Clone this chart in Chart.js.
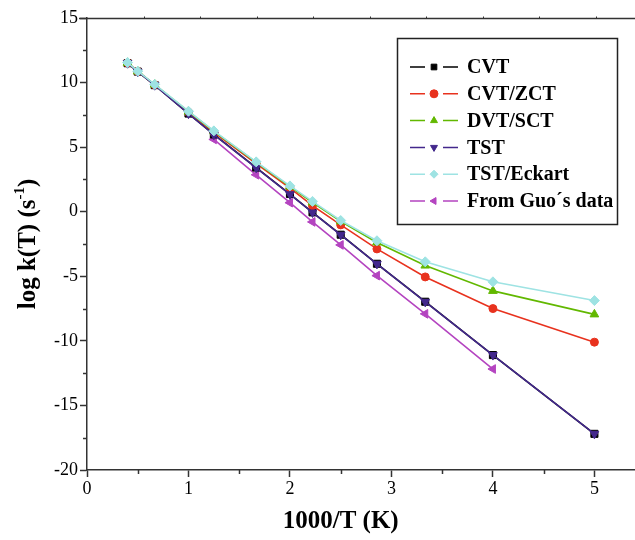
<!DOCTYPE html>
<html>
<head>
<meta charset="utf-8">
<script src="https://cdn.jsdelivr.net/npm/chart.js@4.4.1/dist/chart.umd.min.js"></script>
<style>
html,body{margin:0;padding:0;background:#fff;}
#wrap{width:635px;height:540px;}
</style>
</head>
<body>
<div id="wrap"><canvas id="c" width="635" height="540"></canvas></div>
<script>
// 1000/T values (K^-1 x 1000)
const xValues = [0.4, 0.5, 0.667, 1.0, 1.25, 1.667, 2.0, 2.222, 2.5, 2.857, 3.333, 4.0, 5.0];
const cvt       = [11.50, 10.85, 9.80, 7.60, 5.98, 3.42, 1.37, -0.05, -1.78, -4.03, -6.97, -11.10, -17.20];
const cvtZct    = [11.52, 10.86, 9.83, 7.70, 6.15, 3.72, 1.83,  0.47, -1.02, -2.88, -5.05,  -7.50, -10.10];
const dvtSct    = [11.53, 10.87, 9.85, 7.75, 6.22, 3.82, 1.95,  0.72, -0.75, -2.38, -4.17,  -6.13,  -7.95];
const tst       = [11.50, 10.84, 9.80, 7.59, 5.96, 3.40, 1.35, -0.06, -1.79, -4.04, -6.98, -11.10, -17.20];
const tstEckart = [11.55, 10.88, 9.86, 7.78, 6.26, 3.86, 2.00,  0.80, -0.68, -2.25, -3.88,  -5.43,  -6.88];
const guoX      = [1.25, 1.667, 2.0, 2.222, 2.5, 2.857, 3.333, 4.0];
const guo       = [5.60, 2.86, 0.70, -0.79, -2.57, -4.95, -7.91, -12.18];

const seriesNames = ['CVT', 'CVT/ZCT', 'DVT/SCT', 'TST', 'TST/Eckart', 'From Guo\u00b4s data'];
const yTicks = [-20, -15, -10, -5, 0, 5, 10, 15];
const xTicks = [0, 1, 2, 3, 4, 5];

const SERIF = "'Liberation Serif', 'Times New Roman', serif";
const AXIS = '#333333';

function pts(xs, ys){ return xs.map((x,i)=>({x:x, y:ys[i]})); }

const styles = [
  {color:'#000000', pointStyle:'rect', rotation:0, radius:5, order:5},
  {color:'#e8321e', pointStyle:'circle', rotation:0, radius:4, order:4},
  {color:'#62b800', pointStyle:'triangle', rotation:0, radius:5, order:3},
  {color:'#43288c', pointStyle:'triangle', rotation:180, radius:5, order:2},
  {color:'#9ee3e3', pointStyle:'rectRot', rotation:0, radius:5, order:0},
  {color:'#b444c0', pointStyle:'triangle', rotation:-90, radius:5, order:6}
];
const dataSets = [pts(xValues,cvt), pts(xValues,cvtZct), pts(xValues,dvtSct), pts(xValues,tst), pts(xValues,tstEckart), pts(guoX,guo)];

const datasets = dataSets.map((d,i)=>({
  label: seriesNames[i],
  data: d,
  showLine: true,
  borderColor: styles[i].color,
  backgroundColor: styles[i].color,
  pointBackgroundColor: styles[i].color,
  pointBorderColor: styles[i].color,
  pointBorderWidth: 1,
  borderWidth: 1.6,
  pointStyle: styles[i].pointStyle,
  pointRotation: styles[i].rotation,
  pointRadius: styles[i].radius,
  order: styles[i].order,
  tension: 0
}));

const decor = {
  id: 'decor',
  afterDraw(chart){
    const ctx = chart.ctx;
    const xs = chart.scales.x, ys = chart.scales.y;
    const ca = chart.chartArea;
    ctx.save();
    ctx.strokeStyle = AXIS;
    ctx.lineWidth = 1.5;
    // minor ticks y
    for (let v = ys.min + 2.5; v < ys.max; v += 5) {
      const py = Math.round(ys.getPixelForValue(v)) + 0.5;
      ctx.beginPath(); ctx.moveTo(ca.left, py); ctx.lineTo(ca.left - 4, py); ctx.stroke();
    }
    // minor ticks x
    for (let v = 0.5; v < xs.max; v += 1) {
      const px = Math.round(xs.getPixelForValue(v)) + 0.5;
      ctx.beginPath(); ctx.moveTo(px, ca.bottom); ctx.lineTo(px, ca.bottom + 4); ctx.stroke();
    }
    // top frame line
    const ty = Math.round(ca.top) + 0.5;
    ctx.beginPath(); ctx.moveTo(ca.left - 8, ty); ctx.lineTo(ca.right, ty); ctx.stroke();
    ctx.lineWidth = 1;
    for (let v = 0.557; v < xs.max; v += 0.557) {
      const px = Math.round(xs.getPixelForValue(v)) + 0.5;
      ctx.beginPath(); ctx.moveTo(px, ty); ctx.lineTo(px, ty - 2); ctx.stroke();
    }

    // axis titles
    ctx.fillStyle = '#000';
    ctx.font = 'bold 25px ' + SERIF;
    ctx.textAlign = 'center';
    ctx.textBaseline = 'middle';
    const xmid = (xs.getPixelForValue(0) + xs.getPixelForValue(5)) / 2;
    ctx.fillText('1000/T (K)', xmid, 522);

    // y title with superscript
    ctx.save();
    ctx.translate(27, (ca.top + ca.bottom) / 2);
    ctx.rotate(-Math.PI / 2);
    const bigF = 'bold 25px ' + SERIF, supF = 'bold 15px ' + SERIF;
    const p1 = 'log k(T) (s', p2 = '-1', p3 = ')';
    ctx.font = bigF; const w1 = ctx.measureText(p1).width, w3 = ctx.measureText(p3).width;
    ctx.font = supF; const w2 = ctx.measureText(p2).width;
    let x0 = -(w1 + w2 + w3) / 2;
    ctx.textAlign = 'left';
    ctx.textBaseline = 'alphabetic';
    ctx.font = bigF; ctx.fillText(p1, x0, 8); x0 += w1;
    ctx.font = supF; ctx.fillText(p2, x0, -3); x0 += w2;
    ctx.font = bigF; ctx.fillText(p3, x0, 8);
    ctx.restore();

    // legend
    const bx = 397.5, by = 38.5, bw = 220, bh = 186;
    ctx.fillStyle = '#fff';
    ctx.fillRect(bx, by, bw, bh);
    ctx.strokeStyle = '#222';
    ctx.lineWidth = 1.5;
    ctx.strokeRect(bx, by, bw, bh);
    chart.data.datasets.forEach((ds, i) => {
      const ry = 67 + i * 26.8;
      ctx.strokeStyle = ds.borderColor;
      ctx.lineWidth = 1.5;
      ctx.beginPath();
      ctx.moveTo(410, ry); ctx.lineTo(425, ry);
      ctx.moveTo(443, ry); ctx.lineTo(458, ry);
      ctx.stroke();
      ctx.fillStyle = ds.pointBackgroundColor;
      ctx.strokeStyle = ds.pointBorderColor;
      ctx.lineWidth = 1;
      Chart.helpers.drawPoint(ctx, {pointStyle: ds.pointStyle, rotation: ds.pointRotation, radius: 4, borderWidth: 1}, 434, ry);
      ctx.fillStyle = '#000';
      ctx.font = 'bold 20px ' + SERIF;
      ctx.textAlign = 'left';
      ctx.textBaseline = 'middle';
      ctx.fillText(ds.label, 467, ry + 1);
    });
    ctx.restore();
  }
};

new Chart(document.getElementById('c'), {
  type: 'scatter',
  data: { datasets: datasets },
  options: {
    responsive: false,
    animation: false,
    devicePixelRatio: 1,
    layout: { autoPadding: false, padding: { top: 18, right: 0, left: 0, bottom: 0 } },
    plugins: { legend: { display: false }, tooltip: { enabled: false } },
    scales: {
      x: {
        type: 'linear',
        min: 0, max: 5.4,
        afterBuildTicks(scale){ scale.ticks = xTicks.map(v => ({value: v})); },
        afterFit(scale){ scale.height = 70; scale.paddingRight = 0; scale.paddingLeft = 0; },
        grid: { drawOnChartArea: false, drawTicks: true, tickLength: 7, tickColor: AXIS, tickWidth: 1.5 },
        border: { display: true, color: AXIS, width: 1.5 },
        ticks: { color: '#000', font: { family: SERIF, size: 18 }, padding: 1, maxRotation: 0, autoSkip: false }
      },
      y: {
        type: 'linear',
        min: -20, max: 15,
        afterBuildTicks(scale){ scale.ticks = yTicks.map(v => ({value: v})); },
        afterFit(scale){ scale.width = 87; },
        grid: { drawOnChartArea: false, drawTicks: true, tickLength: 7, tickColor: AXIS, tickWidth: 1.5 },
        border: { display: true, color: AXIS, width: 1.5 },
        ticks: { color: '#000', font: { family: SERIF, size: 18 }, padding: 2 }
      }
    }
  },
  plugins: [decor]
});
</script>
</body>
</html>
